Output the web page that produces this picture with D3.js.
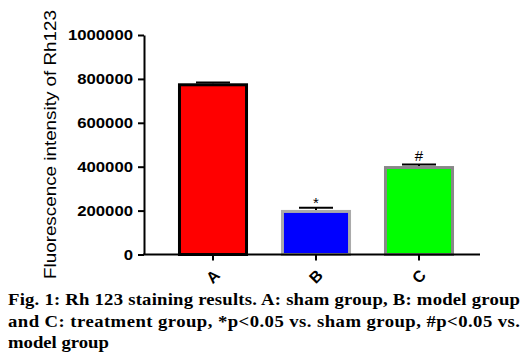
<!DOCTYPE html>
<html><head><meta charset="utf-8">
<script src="https://cdn.jsdelivr.net/npm/d3@7"></script>
<style>body{margin:0;background:#fff}svg{display:block}</style>
</head><body>
<script>
const categories = ["A", "B", "C"];
const values = [780000, 203000, 403000];
const errors = [4000, 10000, 7000];
const marks = ["", "*", "#"];
const fills = ["#ff0000", "#0000ff", "#00ff00"];
const strokes = ["#000000", "#aaaaaa", "#888888"];
const yTicks = [0, 200000, 400000, 600000, 800000, 1000000];
const yLabel = "Fluorescence intensity of Rh123";
const captionLines = [
  "Fig. 1: Rh 123 staining results. A: sham group, B: model group",
  "and C: treatment group, *p<0.05 vs. sham group, #p<0.05 vs.",
  "model group"
];

const W = 529, H = 357;
const svg = d3.select("body").append("svg").attr("width", W).attr("height", H);

const y = d3.scaleLinear().domain([0, 1000000]).range([254.5, 35]);
const x = d3.scaleBand().domain(categories).range([161.5, 470.5]).paddingInner(0.32).paddingOuter(0.16);

// bars
svg.selectAll("rect.bar").data(values).join("rect")
  .attr("x", (d, i) => x(categories[i]) + 1.5)
  .attr("width", x.bandwidth() - 3)
  .attr("y", d => y(d) + 1.5)
  .attr("height", d => y(0) - y(d) - 1.5)
  .attr("fill", (d, i) => fills[i])
  .attr("stroke", (d, i) => strokes[i])
  .attr("stroke-width", 3);

// error bars
values.forEach((v, i) => {
  const cx = x(categories[i]) + x.bandwidth() / 2;
  const top = y(v + errors[i]);
  svg.append("line").attr("x1", cx).attr("x2", cx).attr("y1", y(v)).attr("y2", top)
    .attr("stroke", "#000").attr("stroke-width", 2);
  svg.append("line").attr("x1", cx - 17).attr("x2", cx + 17).attr("y1", top).attr("y2", top)
    .attr("stroke", "#000").attr("stroke-width", 2);
  if (marks[i]) {
    svg.append("text").attr("x", cx).attr("y", marks[i] === "*" ? top : top - 4)
      .attr("text-anchor", "middle").attr("font-family", "Liberation Sans, Arial, sans-serif")
      .attr("font-size", marks[i] === "*" ? 15 : 15).attr("fill", "#000").text(marks[i]);
  }
});

// y axis
const yAxis = svg.append("g").attr("transform", "translate(144,0)")
  .call(d3.axisLeft(y).tickValues(yTicks).tickSize(6).tickSizeOuter(0).tickFormat(d3.format("d")));
yAxis.select(".domain").attr("stroke-width", 2);
yAxis.selectAll(".tick line").attr("stroke-width", 2);
yAxis.selectAll("text").attr("font-family", "Liberation Sans, Arial, sans-serif")
  .attr("font-size", 15).attr("font-weight", "bold").attr("fill", "#000").attr("x", -11)
  .attr("textLength", d => String(d).length * 9.3).attr("lengthAdjust", "spacingAndGlyphs");

// x axis
const xAxis = svg.append("g").attr("transform", `translate(0,${y(0)})`)
  .call(d3.axisBottom(x).tickSize(6).tickSizeOuter(0));
xAxis.select(".domain").attr("d", "M143,0H480").attr("stroke-width", 2);
xAxis.selectAll(".tick line").attr("stroke-width", 2);
xAxis.selectAll("text")
  .attr("font-family", "Liberation Sans, Arial, sans-serif").attr("font-size", 16).attr("font-weight", "bold")
  .attr("fill", "#000").attr("y", 0).attr("dy", 0)
  .attr("text-anchor", "middle")
  .attr("transform", "translate(0,22) rotate(-45)")
  .attr("dominant-baseline", "central");

// y label
svg.append("text").attr("transform", "translate(56,144.5) rotate(-90)")
  .attr("text-anchor", "middle").attr("font-family", "Liberation Sans, Arial, sans-serif")
  .attr("font-size", 16.5).attr("fill", "#000")
  .attr("textLength", 269).attr("lengthAdjust", "spacingAndGlyphs").text(yLabel);

// caption
const capY = [305, 327, 348.5];
const cap = svg.append("g").attr("transform", "scale(1.1,1)");
captionLines.forEach((t, i) => {
  const el = cap.append("text").attr("x", 8 / 1.1).attr("y", capY[i])
    .attr("font-family", "Liberation Serif, Times New Roman, serif").attr("font-weight", "bold")
    .attr("font-size", 17).attr("fill", "#000").text(t);
  if (i < 2) el.attr("textLength", 512 / 1.1).attr("lengthAdjust", "spacing");
});
</script>
</body></html>
